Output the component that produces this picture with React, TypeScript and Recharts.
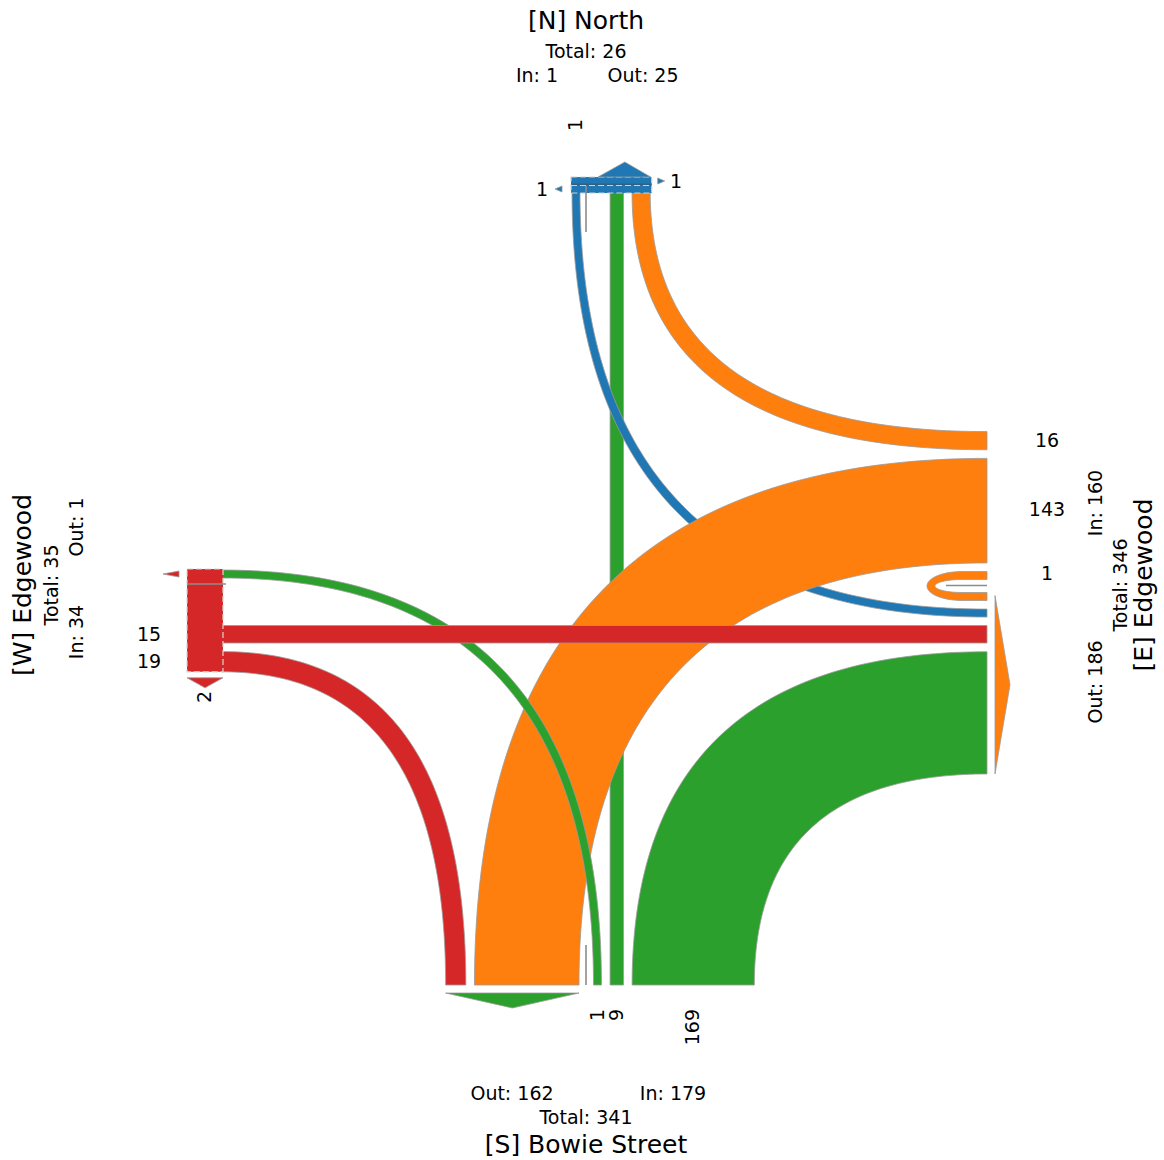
import React from 'react'
import { ScatterChart, Scatter, XAxis, YAxis } from 'recharts'

// approaches: north, east, south, west
const legIds = ['N', 'E', 'S', 'W']
const legNames = ['[N] North', '[E] Edgewood', '[S] Bowie Street', '[W] Edgewood']
const legTotals = [26, 346, 341, 35]
const legIn = [1, 160, 179, 34]
const legOut = [25, 186, 162, 1]

// turning counts, from -> to
const movements = [
  { id: 'NE', from: 'N', to: 'E', count: 1 },
  { id: 'SN', from: 'S', to: 'N', count: 9 },
  { id: 'SE', from: 'S', to: 'E', count: 169 },
  { id: 'SW', from: 'S', to: 'W', count: 1 },
  { id: 'EN', from: 'E', to: 'N', count: 16 },
  { id: 'ES', from: 'E', to: 'S', count: 143 },
  { id: 'EE', from: 'E', to: 'E', count: 1 },
  { id: 'WE', from: 'W', to: 'E', count: 15 },
  { id: 'WS', from: 'W', to: 'S', count: 19 },
]

// numbers printed beside each approach
const northLabels = ['1', '1', '1']
const eastLabels = ['16', '143', '1']
const southLabels = ['1', '9', '169']
const westLabels = ['15', '19', '2']

const legColors: Record<string, string> = { N: '#1f77b4', E: '#ff7f0e', S: '#2ca02c', W: '#d62728' }

// ---- layout (pixels of the 1164 x 1160 canvas) ----
const W = 1164
const H = 1160
const STOP: Record<string, number> = { N: 192, E: 987, S: 985, W: 222 }
const MID: Record<string, number> = { N: 586, E: 585.5, S: 586, W: 584 }
const GAP = 8.6
const bandWidth = (v: number) => 7.3 + 0.68 * v
const EDGE = '#9a9a9a'
const FONT = 'DejaVu Sans, Verdana, sans-serif'

const stacks: Record<string, { ids: string[]; start: number; dir: number }> = {
  N_in: { ids: ['NE'], start: 6, dir: -1 },
  N_out: { ids: ['SN', 'EN'], start: 24, dir: 1 },
  E_in: { ids: ['EE', 'ES', 'EN'], start: 6, dir: -1 },
  E_out: { ids: ['EE', 'NE', 'WE', 'SE'], start: 7, dir: 1 },
  S_in: { ids: ['SW', 'SN', 'SE'], start: 7.5, dir: 1 },
  S_out: { ids: ['ES', 'WS'], start: 7, dir: -1 },
  W_in: { ids: ['WE', 'WS'], start: 41.5, dir: 1 },
  W_out: { ids: ['SW'], start: 6, dir: -1 },
}

type Pt = { x: number; y: number }
type Shape = { pts: Pt[]; fill: string; stroke?: string; width?: number; dash?: string; open?: boolean }

const countOf: Record<string, number> = Object.fromEntries(movements.map((m) => [m.id, m.count]))

const lanes: Record<string, Record<string, [number, number]>> = {}
for (const key of Object.keys(stacks)) {
  const { ids, start, dir } = stacks[key]
  const leg = key.split('_')[0]
  let off = start
  lanes[key] = {}
  ids.forEach((id) => {
    const w = bandWidth(countOf[id])
    const a = MID[leg] + dir * off
    const b = MID[leg] + dir * (off + w)
    lanes[key][id] = [Math.min(a, b), Math.max(a, b)]
    off += w + GAP
  })
}

// quadratic curve from one stop line to the other, control point in the corner
function turnBand(cx: number, cy: number, xr: [number, number], yr: [number, number]): Pt[] {
  const sx = Math.sign(xr[0] - cx)
  const sy = Math.sign(yr[0] - cy)
  const rx = xr.map((v) => Math.abs(v - cx)).sort((a, b) => a - b)
  const ry = yr.map((v) => Math.abs(v - cy)).sort((a, b) => a - b)
  const n = 80
  const edge = (a: number, b: number, t: number): Pt => {
    // start (0, b), control (a, b), end (a, 0)
    const X = 2 * t * (1 - t) * a + t * t * a
    const Y = (1 - t) * (1 - t) * b + 2 * t * (1 - t) * b
    return { x: cx + sx * X, y: cy + sy * Y }
  }
  const pts: Pt[] = []
  for (let i = 0; i <= n; i++) pts.push(edge(rx[1], ry[1], i / n))
  for (let i = n; i >= 0; i--) pts.push(edge(rx[0], ry[0], i / n))
  return pts
}

function uTurn(stopX: number, dir: number, inL: [number, number], outL: [number, number]): Pt[] {
  const top = Math.min(inL[0], outL[0])
  const bottom = Math.max(inL[1], outL[1])
  const innerTop = Math.min(inL[1], outL[1])
  const innerBottom = Math.max(inL[0], outL[0])
  const cy = (top + bottom) / 2
  const x0 = stopX + dir * 25
  const rxO = 35
  const rxI = 27
  const n = 40
  const pts: Pt[] = [{ x: stopX, y: top }]
  for (let i = 0; i <= n; i++) {
    const t = (i / n) * Math.PI
    pts.push({ x: x0 + dir * rxO * Math.sin(t), y: cy - ((bottom - top) / 2) * Math.cos(t) })
  }
  pts.push({ x: stopX, y: bottom }, { x: stopX, y: innerBottom })
  for (let i = n; i >= 0; i--) {
    const t = (i / n) * Math.PI
    pts.push({ x: x0 + dir * rxI * Math.sin(t), y: cy - ((innerBottom - innerTop) / 2) * Math.cos(t) })
  }
  pts.push({ x: stopX, y: innerTop })
  return pts
}

const rect = (x0: number, x1: number, y0: number, y1: number): Pt[] => [
  { x: x0, y: y0 },
  { x: x1, y: y0 },
  { x: x1, y: y1 },
  { x: x0, y: y1 },
]

function bandFor(m: { id: string; from: string; to: string }): Pt[] {
  const horiz = (l: string) => l === 'E' || l === 'W'
  if (m.from === m.to) return uTurn(STOP.E, -1, lanes.E_in[m.id], lanes.E_out[m.id])
  const inLane = lanes[`${m.from}_in`][m.id]
  if (horiz(m.from) && horiz(m.to)) return rect(STOP.W, STOP.E, inLane[0], inLane[1])
  if (!horiz(m.from) && !horiz(m.to)) return rect(inLane[0], inLane[1], STOP.N, STOP.S)
  const outLane = lanes[`${m.to}_out`][m.id]
  const hLeg = horiz(m.from) ? m.from : m.to
  const vLeg = horiz(m.from) ? m.to : m.from
  const yr = horiz(m.from) ? inLane : outLane
  const xr = horiz(m.from) ? outLane : inLane
  return turnBand(STOP[hLeg], STOP[vLeg], xr, yr)
}

const drawOrder = ['SN', 'NE', 'EN', 'ES', 'EE', 'SE', 'SW', 'WE', 'WS']
const bandShapes: Shape[] = drawOrder.map((id) => {
  const m = movements.find((q) => q.id === id)!
  return { pts: bandFor(m), fill: legColors[m.from] }
})

// approach blocks, departure arrows, medians
const nBlockL = lanes.N_in.NE[0] - 1
const nBlockR = lanes.N_out.EN[1] + 1.5
const nBlockT = STOP.N - 15
const wBlockL = STOP.W - 35
const wBlockR = STOP.W + 1
const wBlockT = lanes.W_out.SW[0] - 1
const wBlockB = lanes.W_in.WS[1]
const sOut0 = lanes.S_out.WS[0]
const sOut1 = lanes.S_out.ES[1]
const eOut0 = lanes.E_out.EE[0] + 3
const eOut1 = lanes.E_out.SE[1]
const wOut = lanes.W_out.SW
const nTriL = MID.N + 12

const markShapes: Shape[] = [
  { pts: rect(nBlockL, nBlockR, nBlockT, STOP.N + 1), fill: legColors.N, stroke: '#d0d0d0', width: 1.2, dash: '6 3' },
  { pts: [{ x: nBlockL, y: STOP.N - 6.5 }, { x: nBlockR, y: STOP.N - 6.5 }], fill: 'none', stroke: '#d0d0d0', width: 1.2, dash: '6 3', open: true },
  { pts: [{ x: nBlockL, y: STOP.N - 7.8 }, { x: nBlockR, y: STOP.N - 7.8 }], fill: 'none', stroke: '#4a4a4a', width: 0.8, open: true },
  { pts: [{ x: nTriL, y: nBlockT }, { x: nBlockR - 1, y: nBlockT }, { x: (nTriL + nBlockR) / 2, y: nBlockT - 15 }], fill: legColors.N, stroke: EDGE },
  { pts: [{ x: nBlockL - 16, y: STOP.N - 3 }, { x: nBlockL - 9, y: STOP.N - 6 }, { x: nBlockL - 9, y: STOP.N }], fill: legColors.N, stroke: EDGE },
  { pts: [{ x: nBlockR + 6, y: STOP.N - 14 }, { x: nBlockR + 13, y: STOP.N - 11 }, { x: nBlockR + 6, y: STOP.N - 8 }], fill: legColors.N, stroke: EDGE },
  { pts: rect(wBlockL, wBlockR, wBlockT, wBlockB), fill: legColors.W, stroke: '#d6d6d6', width: 1.2, dash: '6 3' },
  { pts: [{ x: wBlockL - 8, y: wOut[0] + 1 }, { x: wBlockL - 8, y: wOut[1] - 1 }, { x: wBlockL - 24, y: (wOut[0] + wOut[1]) / 2 }], fill: legColors.W, stroke: EDGE },
  { pts: [{ x: wBlockL, y: wBlockB + 6 }, { x: wBlockR, y: wBlockB + 6 }, { x: (wBlockL + wBlockR) / 2, y: wBlockB + 16 }], fill: legColors.W, stroke: EDGE },
  { pts: [{ x: sOut0, y: STOP.S + 8 }, { x: sOut1, y: STOP.S + 8 }, { x: (sOut0 + sOut1) / 2, y: STOP.S + 23 }], fill: legColors.S, stroke: EDGE },
  { pts: [{ x: STOP.E + 8, y: eOut0 }, { x: STOP.E + 8, y: eOut1 }, { x: STOP.E + 23, y: (eOut0 + eOut1) / 2 }], fill: legColors.E, stroke: EDGE },
  { pts: [{ x: MID.N, y: STOP.N - 6 }, { x: MID.N, y: STOP.N + 40 }], fill: 'none', stroke: '#8c8c8c', width: 1.6, open: true },
  { pts: [{ x: STOP.E - 41, y: MID.E }, { x: STOP.E, y: MID.E }], fill: 'none', stroke: '#8c8c8c', width: 1.6, open: true },
  { pts: [{ x: MID.S, y: STOP.S - 40 }, { x: MID.S, y: STOP.S }], fill: 'none', stroke: '#8c8c8c', width: 1.6, open: true },
  { pts: [{ x: wBlockL, y: MID.W }, { x: STOP.W + 4, y: MID.W }], fill: 'none', stroke: '#8c8c8c', width: 1.6, open: true },
]

type Label = { text: string; x: number; y: number; size?: number; rot?: boolean; anchor?: 'middle' | 'end' }
const labels: Label[] = [
  { text: legNames[0], x: 586, y: 29, size: 25 },
  { text: `Total: ${legTotals[0]}`, x: 586, y: 58 },
  { text: `In: ${legIn[0]}`, x: 537, y: 82 },
  { text: `Out: ${legOut[0]}`, x: 643, y: 82 },
  { text: northLabels[0], x: 582, y: 125, rot: true },
  { text: northLabels[1], x: 542, y: 196 },
  { text: northLabels[2], x: 676, y: 188 },
  { text: eastLabels[0], x: 1047, y: 447 },
  { text: eastLabels[1], x: 1047, y: 516 },
  { text: eastLabels[2], x: 1047, y: 580 },
  { text: `In: ${legIn[1]}`, x: 1102, y: 503, rot: true },
  { text: `Total: ${legTotals[1]}`, x: 1127, y: 585, rot: true },
  { text: legNames[1], x: 1152, y: 585, size: 25, rot: true },
  { text: `Out: ${legOut[1]}`, x: 1102, y: 682, rot: true },
  { text: southLabels[0], x: 604, y: 1009, rot: true, anchor: 'end' },
  { text: southLabels[1], x: 623, y: 1009, rot: true, anchor: 'end' },
  { text: southLabels[2], x: 699, y: 1009, rot: true, anchor: 'end' },
  { text: `Out: ${legOut[2]}`, x: 512, y: 1100 },
  { text: `In: ${legIn[2]}`, x: 673, y: 1100 },
  { text: `Total: ${legTotals[2]}`, x: 586, y: 1124 },
  { text: legNames[2], x: 586, y: 1153, size: 25 },
  { text: legNames[3], x: 31, y: 585, size: 25, rot: true },
  { text: `Total: ${legTotals[3]}`, x: 58, y: 585, rot: true },
  { text: `In: ${legIn[3]}`, x: 83, y: 632, rot: true },
  { text: `Out: ${legOut[3]}`, x: 83, y: 527, rot: true },
  { text: westLabels[0], x: 149, y: 641 },
  { text: westLabels[1], x: 149, y: 668 },
  { text: westLabels[2], x: 211, y: 691, rot: true, anchor: 'end' },
]

const noDot = () => <g />

function pathFor(s: Shape) {
  return (props: any) => {
    const p: Pt[] = props.points || []
    if (!p.length) return <g />
    const d = p.map((q, i) => `${i ? 'L' : 'M'}${q.x.toFixed(2)},${q.y.toFixed(2)}`).join(' ') + (s.open ? '' : ' Z')
    return (
      <path
        d={d}
        fill={s.fill}
        stroke={s.stroke ?? EDGE}
        strokeWidth={s.width ?? 0.8}
        strokeDasharray={s.dash}
      />
    )
  }
}

function LabelShape(props: any) {
  const { cx, cy, payload } = props
  const l = payload as Label
  return (
    <text
      x={cx}
      y={cy}
      textAnchor={l.anchor ?? 'middle'}
      fontSize={l.size ?? 19}
      fontFamily={FONT}
      fill="#000"
      transform={l.rot ? `rotate(-90 ${cx} ${cy})` : undefined}
    >
      {l.text}
    </text>
  )
}

export default function App() {
  const shapes = [...bandShapes, ...markShapes]
  return (
    <div style={{ position: 'absolute', left: 0, top: 0, width: W, height: H, background: '#fff' }}>
      <ScatterChart width={W} height={H} margin={{ top: 0, right: 0, bottom: 0, left: 0 }}>
        <XAxis type="number" dataKey="x" domain={[0, W]} allowDataOverflow hide />
        <YAxis type="number" dataKey="y" domain={[0, H]} allowDataOverflow reversed hide />
        {shapes.map((s, i) => (
          <Scatter
            key={i}
            data={s.pts}
            line={pathFor(s)}
            shape={noDot}
            isAnimationActive={false}
          />
        ))}
        <Scatter data={labels} shape={LabelShape} isAnimationActive={false} />
      </ScatterChart>
    </div>
  )
}
